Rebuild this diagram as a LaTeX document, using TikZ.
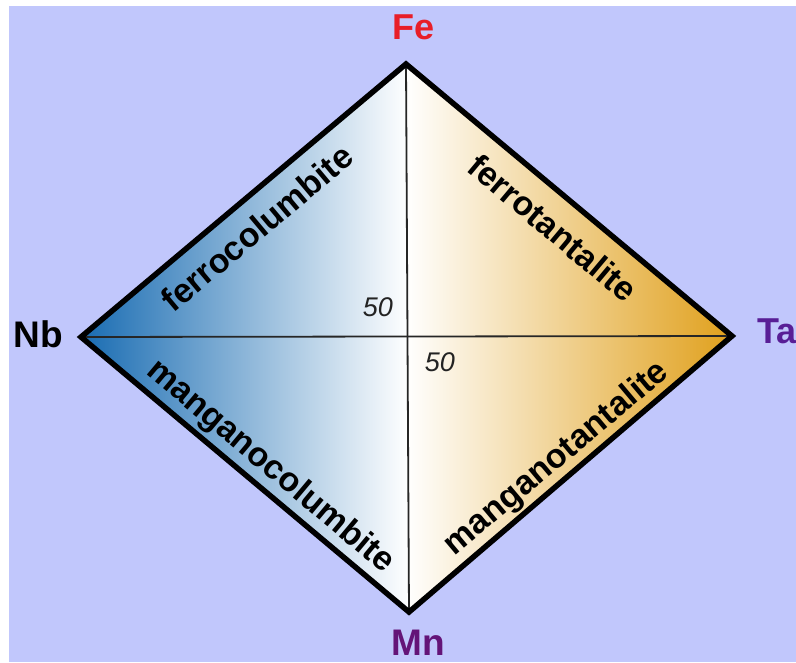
\documentclass[tikz,border=0pt]{standalone}
\usepackage{fontspec}
\setmainfont{Liberation Sans}
\definecolor{bgblue}{RGB}{193,199,252}
\definecolor{nbblue}{RGB}{25,108,178}
\definecolor{taorange}{RGB}{224,160,28}
\definecolor{fered}{RGB}{232,30,40}
\definecolor{tapurple}{RGB}{88,30,150}
\definecolor{mnpurple}{RGB}{100,20,120}
\definecolor{numgray}{RGB}{35,35,35}
\tikzset{
  mineral/.style={font=\fontsize{34}{34}\selectfont\bfseries, text=black, inner sep=0pt},
  element/.style={font=\fontsize{36}{36}\selectfont\bfseries, inner sep=0pt},
  fifty/.style={font=\fontsize{27}{27}\selectfont\itshape, text=numgray, inner sep=0pt},
  outline/.style={line width=5.5pt, line join=miter, draw=black},
  axis/.style={line width=1.8pt, draw=black!85}
}
\begin{document}
\begin{tikzpicture}[x=1pt,y=-1pt]
\useasboundingbox (0,0) rectangle (796,662);
\fill[white] (0,0) rectangle (796,662);
\fill[bgblue] (9,6) rectangle (796,662);
\coordinate (vFe) at (406,64);
\coordinate (vNb) at (81,337);
\coordinate (vTa) at (732,336);
\coordinate (vMn) at (409,612);
\shade[left color=nbblue, right color=white] (vNb) -- (vFe) -- (vMn) -- cycle;
\shade[left color=white, right color=taorange] (vFe) -- (vTa) -- (vMn) -- cycle;
\draw[axis] (vFe) -- (vMn);
\draw[axis] (vNb) -- (vTa);
\draw[outline] (vNb) -- (vFe) -- (vTa) -- (vMn) -- cycle;
\node[mineral, rotate=40] (ferrocol) at (257,228) {ferrocolumbite};
\node[mineral, rotate=-40] (ferrotan) at (553,228) {ferrotantalite};
\node[mineral, rotate=-40] (mangcol) at (270,467) {manganocolumbite};
\node[mineral, rotate=40] (mangtan) at (557,459) {manganotantalite};
\node[fifty] (fiftyA) at (378,307) {50};
\node[fifty] (fiftyB) at (440,362) {50};
\node[element, text=fered] (lFe) at (414,27) {Fe};
\node[element, text=black, font=\fontsize{37}{37}\selectfont\bfseries] (lNb) at (38,334) {Nb};
\node[element, text=tapurple, anchor=west] (lTa) at (757,331) {Ta};
\node[element, text=mnpurple, font=\fontsize{37}{37}\selectfont\bfseries] (lMn) at (418,643) {Mn};
\end{tikzpicture}
\end{document}
